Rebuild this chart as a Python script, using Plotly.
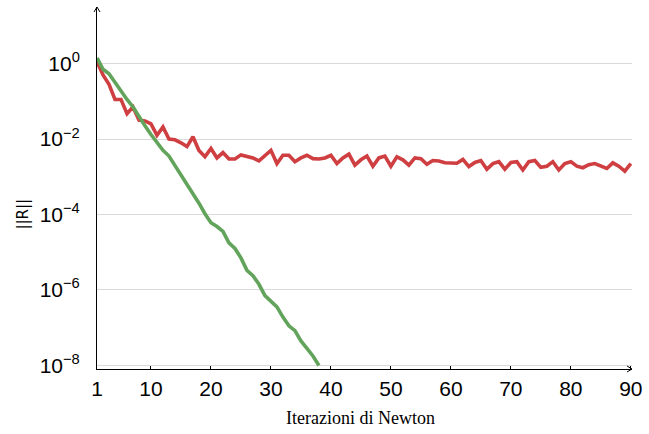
import plotly.graph_objects as go

# Newton iterations
iters_red = list(range(1, 91))
iters_green = list(range(1, 39))

# log10 of residual norm
log_red = [0.05, -0.3, -0.55, -0.95, -0.95, -1.33, -1.15, -1.5, -1.52, -1.6,
           -1.9, -1.68, -2.0, -2.02, -2.1, -2.2, -1.94, -2.3, -2.47, -2.25,
           -2.5, -2.36, -2.53, -2.53, -2.42, -2.47, -2.5, -2.58, -2.45, -2.3,
           -2.65, -2.43, -2.43, -2.6, -2.5, -2.43, -2.52, -2.53, -2.5, -2.43,
           -2.65, -2.5, -2.4, -2.69, -2.55, -2.45, -2.72, -2.5, -2.45, -2.72,
           -2.47, -2.55, -2.69, -2.5, -2.52, -2.67, -2.57, -2.58, -2.63, -2.64,
           -2.64, -2.54, -2.73, -2.62, -2.57, -2.8, -2.65, -2.6, -2.8, -2.62,
           -2.6, -2.82, -2.6, -2.57, -2.75, -2.72, -2.6, -2.82, -2.65, -2.6,
           -2.72, -2.76, -2.68, -2.65, -2.72, -2.78, -2.63, -2.72, -2.85, -2.65]
log_green = [0.15, -0.15, -0.27, -0.5, -0.75, -0.95, -1.15, -1.42, -1.65, -1.88,
             -2.1, -2.3, -2.45, -2.7, -2.93, -3.2, -3.42, -3.7, -3.98, -4.22,
             -4.32, -4.45, -4.75, -4.9, -5.15, -5.48, -5.62, -5.85, -6.15, -6.3,
             -6.45, -6.72, -6.95, -7.08, -7.35, -7.55, -7.75, -8.0]

res_red = [10 ** v for v in log_red]
res_green = [10 ** v for v in log_green]

x_tickvals = [1, 10, 20, 30, 40, 50, 60, 70, 80, 90]
y_tickvals = [1, 1e-2, 1e-4, 1e-6, 1e-8]
y_ticktext = ["10<sup>0</sup>", "10<sup>−2</sup>", "10<sup>−4</sup>",
              "10<sup>−6</sup>", "10<sup>−8</sup>"]

RED = "#CF3F42"
GREEN = "#62A45B"
TICKFONT = dict(family="Liberation Sans", size=21, color="black")

fig = go.Figure()
fig.add_trace(go.Scatter(x=iters_red, y=res_red, mode="lines",
                         line=dict(color=RED, width=3.6), showlegend=False))
fig.add_trace(go.Scatter(x=iters_green, y=res_green, mode="lines",
                         line=dict(color=GREEN, width=3.6), showlegend=False))

fig.update_layout(
    width=649, height=434,
    margin=dict(l=97, r=12, t=7, b=65),
    plot_bgcolor="white", paper_bgcolor="white",
    xaxis=dict(range=[1, 90.2], tickvals=x_tickvals, showgrid=False,
               zeroline=False, showline=True, linecolor="black", linewidth=1,
               ticks="inside", ticklen=3, tickcolor="black", tickfont=TICKFONT,
               ticklabelstandoff=1),
    yaxis=dict(type="log", range=[-8.095, 1.5], tickvals=y_tickvals,
               ticktext=y_ticktext, showgrid=True, gridcolor="#dadada",
               gridwidth=1.2, zeroline=False, showline=True, linecolor="black",
               linewidth=1, ticks="", tickfont=TICKFONT, ticklabelstandoff=12),
    annotations=[
        dict(text="Iterazioni di Newton", xref="paper", yref="paper",
             x=(363 - 97) / 540, y=0, yshift=-49, xanchor="center",
             yanchor="middle", showarrow=False,
             font=dict(family="Liberation Serif", size=18, color="black")),
        dict(text="||R||", xref="paper", yref="y", x=0, y=-4, xshift=-75,
             xanchor="center", yanchor="middle", textangle=-90,
             showarrow=False,
             font=dict(family="DejaVu Sans", size=15, color="black")),
    ],
    shapes=[
        dict(type="line", xref="paper", yref="paper", xsizemode="pixel",
             ysizemode="pixel", xanchor=1, yanchor=0, x0=-5, y0=3, x1=0, y1=0,
             line=dict(color="black", width=1)),
        dict(type="line", xref="paper", yref="paper", xsizemode="pixel",
             ysizemode="pixel", xanchor=1, yanchor=0, x0=-5, y0=-3, x1=0, y1=0,
             line=dict(color="black", width=1)),
        dict(type="line", xref="paper", yref="paper", xsizemode="pixel",
             ysizemode="pixel", xanchor=0, yanchor=1, x0=-3, y0=-5, x1=0, y1=0,
             line=dict(color="black", width=1)),
        dict(type="line", xref="paper", yref="paper", xsizemode="pixel",
             ysizemode="pixel", xanchor=0, yanchor=1, x0=3, y0=-5, x1=0, y1=0,
             line=dict(color="black", width=1)),
    ],
)

fig.write_html("out.html")
